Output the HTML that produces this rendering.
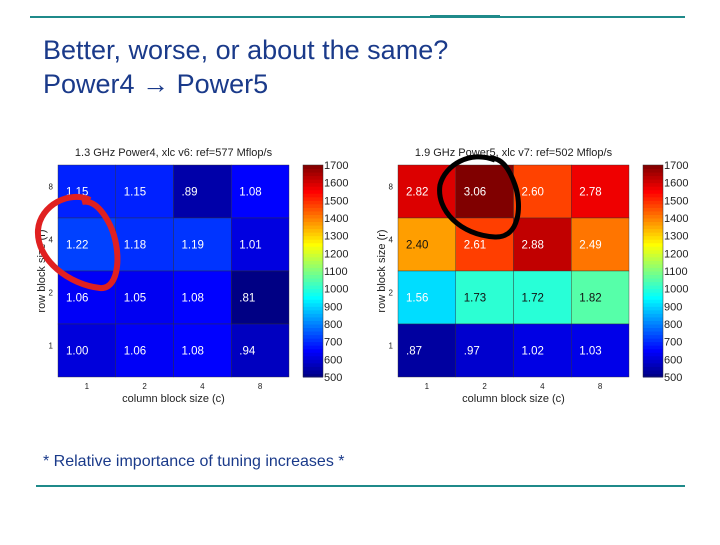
<!DOCTYPE html>
<html><head><meta charset="utf-8"><style>
body{margin:0;background:#fff;}
svg text{font-family:"Liberation Sans",sans-serif;}
</style></head><body>
<svg id="s" width="720" height="540" viewBox="0 0 720 540" xmlns="http://www.w3.org/2000/svg">
<line x1="30" y1="17" x2="685" y2="17" stroke="#1f8a8a" stroke-width="2"/>
<line x1="430" y1="16.5" x2="500" y2="16.5" stroke="#1f8a8a" stroke-width="3"/>
<text x="43" y="59" font-size="27" fill="#1a3a8a">Better, worse, or about the same?</text>
<text x="43" y="93" font-size="27" fill="#1a3a8a">Power4 <tspan font-weight="bold">→</tspan> Power5</text>
<g id="left"></g>
<g id="right"></g>
<path d="M90,200 C70,190 40,205 38,230 C36,260 70,285 100,288 C120,290 122,250 110,225 C100,205 90,200 82,202" fill="none" stroke="#e02020" stroke-width="6"/>
<path d="M495,160 C470,150 445,165 440,185 C436,210 460,235 495,237 C520,238 522,205 515,185 C508,165 500,158 490,158" fill="none" stroke="#000" stroke-width="5"/>
<text x="43" y="466" font-size="16" fill="#1a3a8a">* Relative importance of tuning increases *</text>
<line x1="36" y1="486" x2="685" y2="486" stroke="#1f8a8a" stroke-width="2"/>
</svg>
<script>
const colCats=["1","2","4","8"];
const rowCats=["1","2","4","8"];
const p4Title="1.3 GHz Power4, xlc v6: ref=577 Mflop/s";
const p5Title="1.9 GHz Power5, xlc v7: ref=502 Mflop/s";
// rows from top (r=8) to bottom (r=1)
const p4Row8=[1.15,1.15,0.89,1.08];
const p4Row4=[1.22,1.18,1.19,1.01];
const p4Row2=[1.06,1.05,1.08,0.81];
const p4Row1=[1.00,1.06,1.08,0.94];
const p5Row8=[2.82,3.06,2.60,2.78];
const p5Row4=[2.40,2.61,2.88,2.49];
const p5Row2=[1.56,1.73,1.72,1.82];
const p5Row1=[0.87,0.97,1.02,1.03];
const cbTicks=[500,600,700,800,900,1000,1100,1200,1300,1400,1500,1600,1700];
const NS="http://www.w3.org/2000/svg";
function jet(t){t=Math.max(0,Math.min(1,t));
 const f=x=>Math.round(255*Math.max(0,Math.min(1,x)));
 return `rgb(${f(Math.min(4*t-1.5,-4*t+4.5))},${f(Math.min(4*t-0.5,-4*t+3.5))},${f(Math.min(4*t+0.5,-4*t+2.5))})`;}
function el(tag,a,txt){const e=document.createElementNS(NS,tag);for(const k in a)e.setAttribute(k,a[k]);if(txt!=null)e.textContent=txt;return e;}
function fmt(v){const s=v.toFixed(2);return v<1?s.slice(1):s;}
function draw(g,x0,title,rows){
 const y0=165,W=231,H=212,cw=W/4,ch=H/4;
 const xs=i=>x0+i*cw, ys=j=>y0+j*ch;
 const valToT=v=>0.45*v-0.36;
 const t=el("text",{x:x0+W/2,y:156,"font-size":11,"text-anchor":"middle",fill:"#222"},title);
 
 
 g.appendChild(t);
 rows.forEach((row,j)=>row.forEach((v,i)=>{
  const r=el("rect",{x:xs(i),y:ys(j),width:cw,height:ch,fill:jet(valToT(v)),stroke:"#333","stroke-width":0.4});
  
  
  g.appendChild(r);
  const tt=valToT(v);const dark=tt>0.4&&tt<0.76;
  const tx=el("text",{x:xs(i)+8,y:ys(j)+ch/2+4,"font-size":11.5,fill:dark?"#111":"#fff"},fmt(v));
  
  
  g.appendChild(tx);
 }));
 colCats.forEach((c,i)=>{const tx=el("text",{x:xs(i)+cw/2,y:y0+H+12,"font-size":8,"text-anchor":"middle",fill:"#222"},c);
  
  
  g.appendChild(tx);});
 rowCats.forEach((c,k)=>{const j=3-k;const tx=el("text",{x:x0-5,y:ys(j)+ch/2-2,"font-size":8,"text-anchor":"end",fill:"#222"},c);
  
  
  g.appendChild(tx);});
 const xl=el("text",{x:x0+W/2,y:y0+H+25,"font-size":11,"text-anchor":"middle",fill:"#222"},"column block size (c)");
 
 
 g.appendChild(xl);
 const yl=el("text",{x:0,y:0,"font-size":11,"text-anchor":"middle",fill:"#222",transform:`translate(${x0-13},${y0+H/2}) rotate(-90)`},"row block size (r)");
 
 
 g.appendChild(yl);
 const cbx=x0+W+14,cbw=20;
 const n=60;
 for(let k=0;k<n;k++){const r=el("rect",{x:cbx,y:y0+H-(k+1)*H/n,width:cbw,height:H/n+0.5,fill:jet((k+0.5)/n)});
  
  
  g.appendChild(r);}
 const cb=el("rect",{x:cbx,y:y0,width:cbw,height:H,fill:"none",stroke:"#333","stroke-width":0.5});
 
 
 g.appendChild(cb);
 cbTicks.forEach(v=>{const y=y0+H-(v-500)/1200*H;
  const tx=el("text",{x:cbx+cbw+1,y:y+4,"font-size":11,fill:"#222"},String(v));
  
  
  g.appendChild(tx);});
}
draw(document.getElementById("left"),58,p4Title,[p4Row8,p4Row4,p4Row2,p4Row1]);
draw(document.getElementById("right"),398,p5Title,[p5Row8,p5Row4,p5Row2,p5Row1]);
</script>
</body></html>
